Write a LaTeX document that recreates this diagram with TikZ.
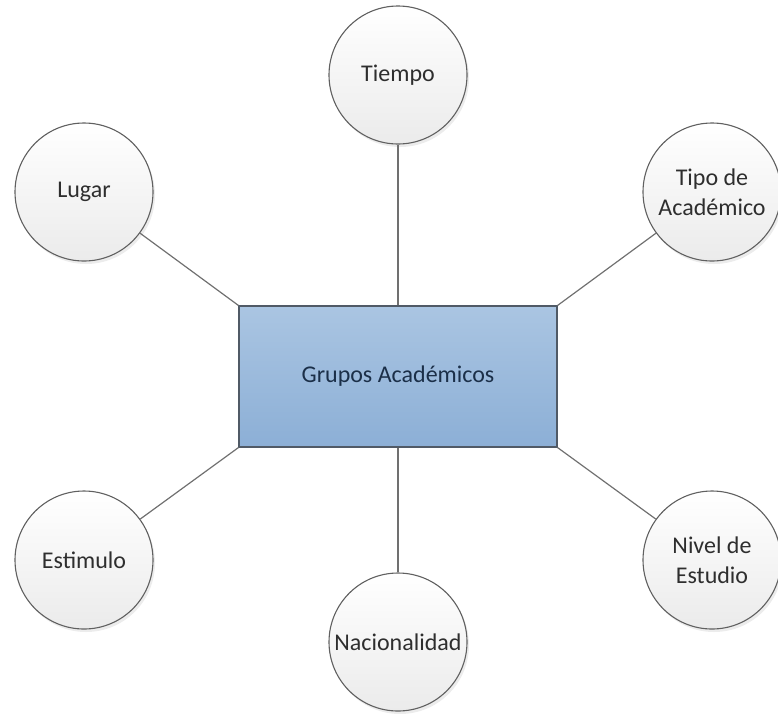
\documentclass[tikz,border=0pt]{standalone}
\usepackage{fontspec}
\setmainfont{Carlito}
\usetikzlibrary{shadows}

\definecolor{ringedge}{HTML}{606060}
\definecolor{ringbottom}{HTML}{EBEBEB}
\definecolor{ringtext}{HTML}{2E2E2E}
\definecolor{boxedge}{HTML}{505A66}
\definecolor{boxtop}{HTML}{AAC5E2}
\definecolor{boxbottom}{HTML}{8CAFD6}
\definecolor{boxtext}{HTML}{1B2F48}
\definecolor{linkgray}{HTML}{707070}

\begin{document}
\begin{tikzpicture}[x=1pt, y=-1pt,
  topic/.style={circle, draw=ringedge, line width=1.1pt, minimum size=138pt,
    inner sep=0pt, top color=white, bottom color=ringbottom,
    align=center, text=ringtext, font=\fontsize{24}{30}\selectfont,
    drop shadow={opacity=0.15, shadow xshift=2pt, shadow yshift=-3pt}},
  hub/.style={rectangle, draw=boxedge, line width=1.1pt,
    minimum width=318pt, minimum height=141pt, inner sep=0pt,
    top color=boxtop, bottom color=boxbottom,
    text=boxtext, font=\fontsize{24}{30}\selectfont},
  link/.style={draw=linkgray, line width=1.2pt}]

  \useasboundingbox (0,0) rectangle (778,713);
  \clip (0,0) rectangle (778,713);

  % central entity
  \node[hub] (grupos) at (398,376.5) {Grupos Académicos};

  % surrounding attributes
  \node[topic] (tiempo) at (398,75)  {Tiempo};
  \node[topic] (lugar)  at (84,192)  {Lugar};
  \node[topic] (tipo)   at (712,192) {Tipo de\\Académico};
  \node[topic] (estim)  at (84,560)  {Estimulo};
  \node[topic] (nivel)  at (712,560) {Nivel de\\Estudio};
  \node[topic] (nacio)  at (398,642) {Nacionalidad};

  % connectors
  \draw[link] (grupos.north)      -- (tiempo);
  \draw[link] (grupos.south)      -- (nacio);
  \draw[link] (grupos.north west) -- (lugar);
  \draw[link] (grupos.north east) -- (tipo);
  \draw[link] (grupos.south west) -- (estim);
  \draw[link] (grupos.south east) -- (nivel);
\end{tikzpicture}
\end{document}
